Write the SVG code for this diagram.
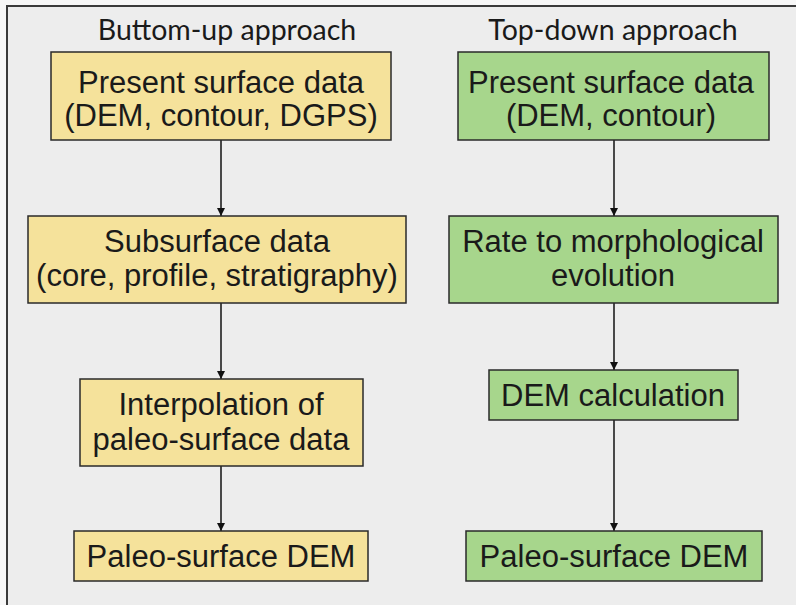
<svg xmlns="http://www.w3.org/2000/svg" width="796" height="605" viewBox="0 0 796 605">
<defs>
<marker id="ah" viewBox="0 0 10 10" refX="10" refY="5" markerWidth="8" markerHeight="8" markerUnits="userSpaceOnUse" orient="auto">
<path d="M0,0 L10,5 L0,10 z" fill="#111"/>
</marker>
<style>
.bg{fill:#ededed}
.frame{fill:none;stroke:#3a3a3a;stroke-width:2}
.y{fill:#f5e29b;stroke:#2a2a2a;stroke-width:1.5}
.g{fill:#a7d68c;stroke:#2a2a2a;stroke-width:1.5}
.t{font-family:"Liberation Sans",Arial,sans-serif;font-size:31px;fill:#1a1a1a;text-anchor:middle}
.h{font-family:Lato,"Open Sans",sans-serif;font-size:28.5px;fill:#1a1a1a;text-anchor:middle}
.c{fill:none;stroke:#111;stroke-width:1.5;marker-end:url(#ah)}
</style>
</defs>
<rect width="796" height="605" fill="#f7f7f7"/>
<rect class="bg" x="7" y="6" width="789" height="599"/>
<path class="frame" d="M7,605 L7,6 L796,6"/>
<text class="h" x="227" y="40">Buttom-up approach</text>
<text class="h" x="613" y="40">Top-down approach</text>
<g id="connectors">
<line class="c" x1="221" y1="140" x2="221" y2="216"/>
<line class="c" x1="221" y1="303" x2="221" y2="379"/>
<line class="c" x1="221" y1="466" x2="221" y2="531"/>
<line class="c" x1="614" y1="140" x2="614" y2="216"/>
<line class="c" x1="614" y1="303" x2="614" y2="370"/>
<line class="c" x1="614" y1="420" x2="614" y2="531"/>
</g>
<g id="b1">
<rect class="y" x="51" y="52" width="340" height="88"/>
<text class="t" x="221" y="93">Present surface data</text>
<text class="t" x="221" y="126">(DEM, contour, DGPS)</text>
</g>
<g id="b2">
<rect class="y" x="28" y="216" width="378" height="87"/>
<text class="t" x="217" y="252">Subsurface data</text>
<text class="t" x="217" y="286">(core, profile, stratigraphy)</text>
</g>
<g id="b3">
<rect class="y" x="80" y="379" width="283" height="87"/>
<text class="t" x="221" y="415">Interpolation of</text>
<text class="t" x="221" y="450">paleo-surface data</text>
</g>
<g id="b4">
<rect class="y" x="74" y="531" width="294" height="50"/>
<text class="t" x="221" y="567">Paleo-surface DEM</text>
</g>
<g id="g1">
<rect class="g" x="458" y="52" width="311" height="88"/>
<text class="t" x="611" y="93">Present surface data</text>
<text class="t" x="611" y="126">(DEM, contour)</text>
</g>
<g id="g2">
<rect class="g" x="449" y="216" width="329" height="87"/>
<text class="t" x="613" y="252">Rate to morphological</text>
<text class="t" x="613" y="286">evolution</text>
</g>
<g id="g3">
<rect class="g" x="489" y="370" width="249" height="50"/>
<text class="t" x="613" y="406">DEM calculation</text>
</g>
<g id="g4">
<rect class="g" x="466" y="531" width="296" height="50"/>
<text class="t" x="614" y="567">Paleo-surface DEM</text>
</g>
</svg>
